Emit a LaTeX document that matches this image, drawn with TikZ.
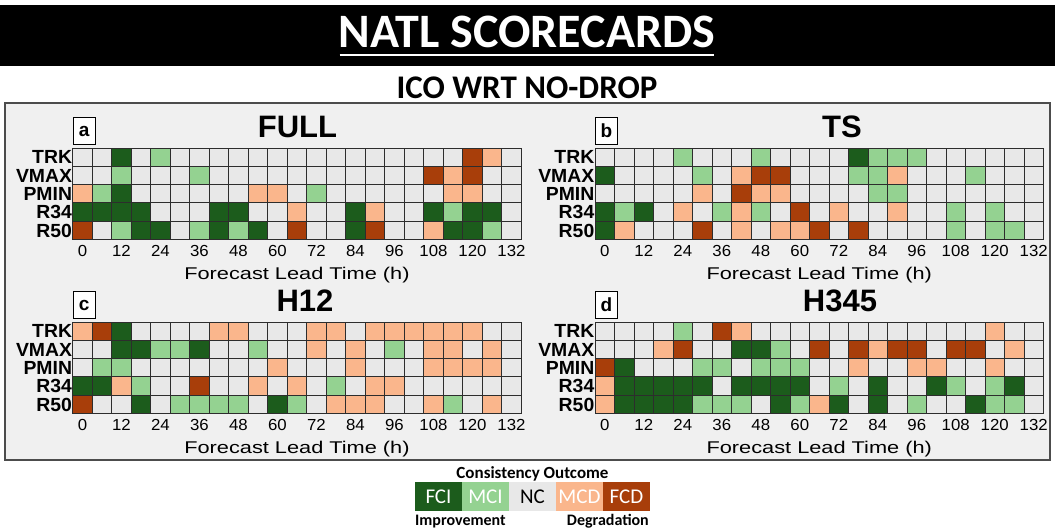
\documentclass[tikz,border=0pt]{standalone}
\usepackage{fontspec}
\setmainfont{Liberation Sans}
\newfontfamily\calfont{Carlito}
\definecolor{colG}{RGB}{28,92,28}
\definecolor{colL}{RGB}{148,210,145}
\definecolor{colN}{RGB}{232,232,232}
\definecolor{colO}{RGB}{250,182,140}
\definecolor{colR}{RGB}{168,62,10}
\definecolor{panelbg}{RGB}{240,240,240}
\definecolor{gridc}{RGB}{45,45,45}

\newcommand\scrow[3]{%
  \foreach \c [count=\i from 0] in {#3}{%
    \filldraw[fill=col\c, draw=gridc, line width=0.9pt] ({#1+\i*19.5},{#2}) rectangle ++(19.5,18.3);
  }%
}
\newcommand\scgrid[8]{%
  \scrow{#1}{#2}{#3}%
  \scrow{#1}{#2+18.3}{#4}%
  \scrow{#1}{#2+36.6}{#5}%
  \scrow{#1}{#2+54.9}{#6}%
  \scrow{#1}{#2+73.2}{#7}%
  \node[rowlab] (#8-r1) at ({#1-0.5},{#2+15.9}) {TRK};
  \node[rowlab] (#8-r2) at ({#1-0.5},{#2+34.2}) {VMAX};
  \node[rowlab] (#8-r3) at ({#1-0.5},{#2+52.5}) {PMIN};
  \node[rowlab] (#8-r4) at ({#1-0.5},{#2+70.8}) {R34};
  \node[rowlab] (#8-r5) at ({#1-0.5},{#2+89.1}) {R50};
  \foreach \k in {0,...,11}{%
    \pgfmathsetmacro\tx{#1+(2*\k+0.5)*19.5}%
    \pgfmathtruncatemacro\tl{12*\k}%
    \node[ticklab] (#8-t\k) at (\tx,{#2+108.6}) {\tl};
  }%
  \node[xlab] (#8-xl) at ({#1+224.25},{#2+131}) {Forecast Lead Time (h)};
}

\begin{document}
\begin{tikzpicture}[x=1pt,y=-1pt,
  rowlab/.style={font=\bfseries\fontsize{19}{19}\selectfont, anchor=base east, inner sep=0pt, xscale=1.02},
  ticklab/.style={font=\fontsize{16}{16}\selectfont, anchor=base, inner sep=0pt, xscale=1.05},
  xlab/.style={font=\fontsize{17}{17}\selectfont, anchor=base, inner sep=0pt, xscale=1.28},
  ptitle/.style={font=\bfseries\fontsize{31}{31}\selectfont, anchor=base, inner sep=0pt},
  letterbox/.style={draw=black, fill=white, line width=0.9pt, minimum width=22pt, minimum height=27pt, inner sep=0pt, font=\bfseries\fontsize{19}{19}\selectfont, anchor=south west},
  legbox/.style={minimum width=47pt, minimum height=29pt, inner sep=0pt, font=\calfont\fontsize{21}{21}\selectfont},
  legtxt/.style={font=\calfont\bfseries\fontsize{16}{16}\selectfont, inner sep=0pt}
]
\useasboundingbox (0,0) rectangle (1055,530);
\fill[white] (0,0) rectangle (1055,530);
% banner
\fill[black] (0,5) rectangle (1055,66);
\node[font=\calfont\bfseries\fontsize{48}{48}\selectfont, text=white, anchor=base, inner sep=0pt] (title) at (527,47) {NATL SCORECARDS};
\coordinate (ulA) at ([xshift=1pt]title.base west);
\coordinate (ulB) at ([xshift=-1pt]title.base east);
\draw[white, line width=2.6pt] ([yshift=-8pt]ulA) -- ([yshift=-8pt]ulB);
\node[font=\calfont\bfseries\fontsize{33}{33}\selectfont, anchor=base, inner sep=0pt] (sub) at (527,98) {ICO WRT NO-DROP};
% panel box
\draw[line width=1.6pt, draw=black!70, fill=panelbg] (5,103) rectangle (1050,460);

% panel a FULL
\scgrid{72.7}{148}
{N,N,G,N,L,N,N,N,N,N,N,N,N,N,N,N,N,N,N,N,R,O,N}
{N,N,L,N,N,N,L,N,N,N,N,N,N,N,N,N,N,N,R,O,R,N,N}
{O,L,G,N,N,N,N,N,N,O,O,N,L,N,N,N,N,N,N,O,O,N,N}
{G,G,G,G,N,N,N,G,G,N,N,O,N,N,G,O,N,N,G,L,G,G,N}
{R,N,L,G,G,N,L,G,L,G,N,R,N,N,G,R,N,N,O,G,G,L,N}
{pa}
% panel b TS
\scgrid{595}{148}
{N,N,N,N,L,N,N,N,L,N,N,N,N,G,L,L,L,N,N,N,N,N,N}
{G,N,N,N,N,L,N,O,R,R,N,N,N,L,L,O,N,N,N,L,N,N,N}
{N,N,N,N,N,O,N,R,O,O,N,N,N,N,L,L,N,N,N,N,N,N,N}
{G,L,G,N,O,N,L,O,L,N,R,N,O,N,N,O,N,N,L,N,L,N,N}
{G,O,N,N,N,R,N,O,N,O,O,R,N,R,N,N,N,N,L,N,L,L,N}
{pb}
% panel c H12
\scgrid{72.7}{322}
{O,R,G,N,N,N,N,O,O,N,N,N,O,O,N,O,O,O,O,O,O,N,N}
{N,N,G,G,L,L,G,N,N,L,N,N,O,N,O,N,L,N,O,O,N,O,N}
{N,L,L,N,N,N,N,N,N,N,O,N,N,N,O,N,N,N,O,O,O,O,N}
{G,G,O,L,N,N,R,N,N,O,N,O,N,L,N,O,O,N,N,N,N,N,N}
{R,N,N,G,N,L,L,L,L,N,G,L,N,O,O,O,N,N,O,L,N,O,N}
{pc}
% panel d H345
\scgrid{595}{322}
{N,N,N,N,L,N,R,O,N,N,N,N,N,N,N,N,N,N,N,N,O,N,N}
{N,N,N,O,R,N,N,G,G,L,N,R,N,R,O,R,R,N,R,R,N,O,N}
{R,G,N,N,N,L,L,N,L,L,L,N,N,O,N,N,O,O,N,N,O,N,N}
{O,G,G,G,G,G,N,G,G,G,G,N,L,N,G,N,N,G,L,N,L,G,N}
{O,G,G,G,G,L,L,L,N,G,L,O,G,N,G,N,L,N,N,G,L,L,N}
{pd}

% titles and letters
\node[ptitle] (ta) at (297.5,137.3) {FULL};
\node[ptitle] (tb) at (842,137.3) {TS};
\node[ptitle] (tc) at (305,311.3) {H12};
\node[ptitle] (td) at (840,311.3) {H345};
\node[letterbox] (la) at (72.7,145) {a};
\node[letterbox] (lb) at (595,145) {b};
\node[letterbox] (lc) at (72.7,319) {c};
\node[letterbox] (ld) at (595,319) {d};

% legend
\node[font=\calfont\bfseries\fontsize{17}{17}\selectfont, anchor=base, inner sep=0pt] (legt) at (532.5,478.3) {Consistency Outcome};
\node[legbox, fill=colG, text=white] (lfci) at (438.5,496.5) {FCI};
\node[legbox, fill=colL, text=white] (lmci) at (485.5,496.5) {MCI};
\node[legbox, fill=colN, text=black] (lnc) at (532.5,496.5) {NC};
\node[legbox, fill=colO, text=white] (lmcd) at (579.5,496.5) {MCD};
\node[legbox, fill=colR, text=white] (lfcd) at (626.5,496.5) {FCD};
\node[legtxt, anchor=base west] (limp) at (415,525.5) {Improvement};
\node[legtxt, anchor=base east] (ldeg) at (649,525.5) {Degradation};
\end{tikzpicture}
\end{document}
